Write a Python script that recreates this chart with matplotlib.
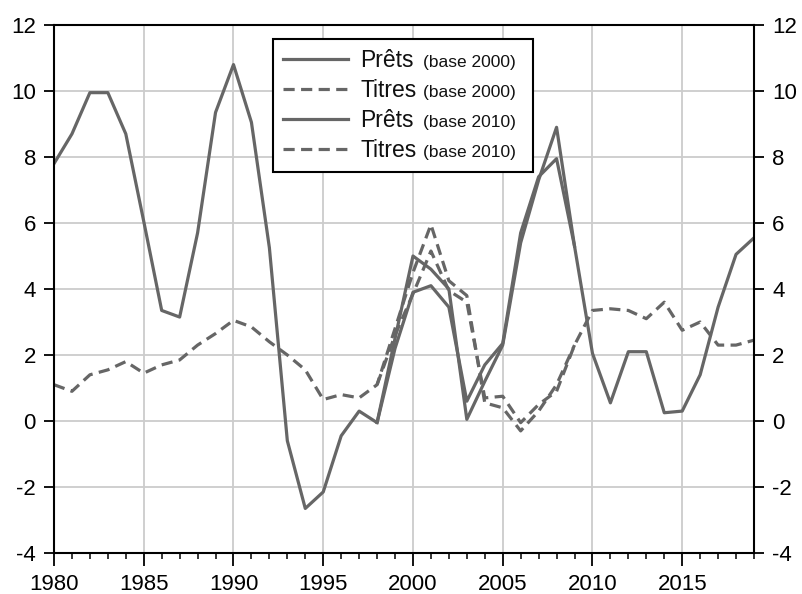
import matplotlib
matplotlib.use("Agg")
import matplotlib.pyplot as plt
from matplotlib.ticker import MultipleLocator

plt.rcParams['font.family'] = ['Liberation Sans', 'DejaVu Sans']
plt.rcParams['axes.unicode_minus'] = False

years_2000 = list(range(1980, 2010))
prets_2000 = [7.8, 8.7, 9.95, 9.95, 8.7, 6.05, 3.35, 3.15, 5.7, 9.35,
              10.8, 9.05, 5.25, -0.6, -2.65, -2.15, -0.45, 0.3, -0.05, 2.5,
              5.0, 4.6, 4.0, 0.05, 1.2, 2.3, 5.4, 7.3, 8.9, 5.3]
titres_2000 = [1.1, 0.9, 1.4, 1.55, 1.8, 1.45, 1.7, 1.85, 2.3, 2.65,
               3.05, 2.85, 2.4, 2.0, 1.55, 0.65, 0.8, 0.7, 1.1, 2.8,
               4.5, 5.95, 4.25, 3.8, 0.55, 0.4, -0.3, 0.3, 1.1, 2.3]

years_2010 = list(range(1998, 2020))
prets_2010 = [-0.05, 2.2, 3.9, 4.1, 3.45, 0.6, 1.7, 2.35, 5.7, 7.4,
              7.95, 5.3, 2.05, 0.55, 2.1, 2.1, 0.25, 0.3, 1.4, 3.45,
              5.05, 5.55]
titres_2010 = [1.1, 2.6, 3.85, 5.15, 3.95, 3.6, 0.7, 0.75, -0.05, 0.5,
               0.9, 2.3, 3.35, 3.4, 3.35, 3.1, 3.6, 2.75, 3.0, 2.3,
               2.3, 2.45]

labels_main = ["Prêts", "Titres", "Prêts", "Titres"]
labels_small = ["(base 2000)", "(base 2000)", "(base 2010)", "(base 2010)"]

line_color = "#666666"
lw = 2.3
dash = (3.5, 2.0)

fig = plt.figure(figsize=(8.02, 5.94), dpi=100)
ax = fig.add_axes([54/802, 1-553/594, 700/802, 528/594])

l1, = ax.plot(years_2000, prets_2000, color=line_color, lw=lw)
l2, = ax.plot(years_2000, titres_2000, color=line_color, lw=lw, dashes=dash)
l3, = ax.plot(years_2010, prets_2010, color=line_color, lw=lw)
l4, = ax.plot(years_2010, titres_2010, color=line_color, lw=lw, dashes=dash)

ax.set_xlim(1980, 2019)
ax.set_ylim(-4, 12)
ax.xaxis.set_major_locator(MultipleLocator(5))
ax.xaxis.set_minor_locator(MultipleLocator(1))
ax.yaxis.set_major_locator(MultipleLocator(2))

ax.grid(True, which='major', color='#cccccc', lw=1.3)
ax.set_axisbelow(True)

for s in ax.spines.values():
    s.set_color('black')
    s.set_linewidth(1.5)

ax.tick_params(axis='y', which='major', left=True, right=True, labelleft=True,
               labelright=True, direction='out', length=7, width=1.3,
               labelsize=16, pad=6, colors='black')
ax.tick_params(axis='x', which='major', direction='out', length=9, width=1.3,
               labelsize=16, pad=6, top=False)
ax.tick_params(axis='x', which='minor', direction='out', length=4.5, width=1.1,
               top=False)

leg = ax.legend([l1, l2, l3, l4], labels_main, loc='upper left',
                bbox_to_anchor=(0.3129, 0.7, 0.3714, 0.2735), mode='expand',
                frameon=True, fancybox=False,
                edgecolor='black', framealpha=1, fontsize=16.5,
                handlelength=2.84, handletextpad=0.52, labelspacing=0.3,
                borderpad=0.45, borderaxespad=0)
leg.get_frame().set_linewidth(1.5)
for txt, small in zip(leg.get_texts(), labels_small):
    txt.set_color('#111111')
    ax.annotate(small, xy=(0, 0), xycoords=txt, xytext=(45.4, 3.6),
                textcoords='offset points', fontsize=12.5, va='baseline',
                ha='left', color='#111111', annotation_clip=False, zorder=7)

fig.savefig("out.png", dpi=100)
